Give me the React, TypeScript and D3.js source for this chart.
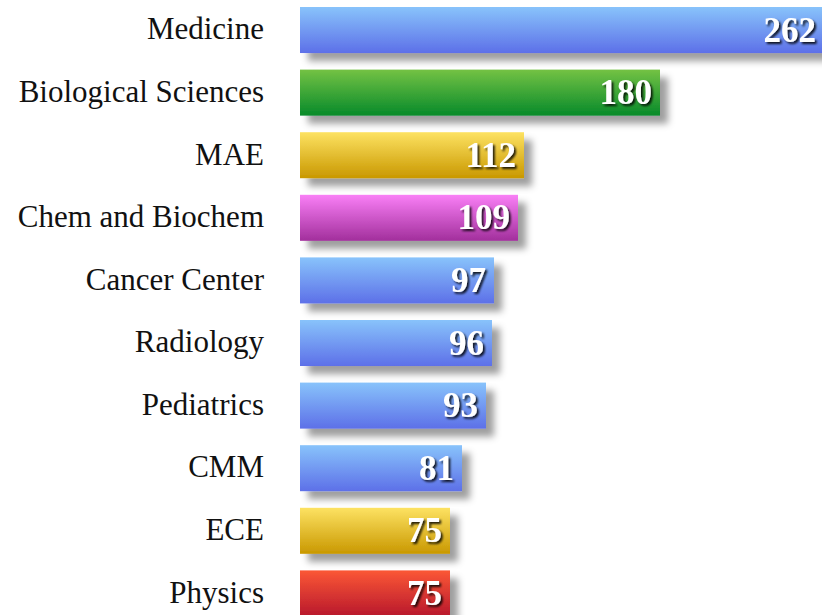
import React from "react";
import * as d3 from "d3";

const categories = ["Medicine", "Biological Sciences", "MAE", "Chem and Biochem", "Cancer Center", "Radiology", "Pediatrics", "CMM", "ECE", "Physics"];
const values = [262, 180, 112, 109, 97, 96, 93, 81, 75, 75];
const colorKeys = ["blue", "green", "gold", "magenta", "blue", "blue", "blue", "blue", "gold", "red"];

const gradients: Record<string, [string, string]> = {
  blue: ["#88c3fb", "#5d70e8"],
  green: ["#74c244", "#078a2a"],
  gold: ["#fde262", "#c99800"],
  magenta: ["#f97ff6", "#a22f9c"],
  red: ["#fb5736", "#b8182c"],
};

const W = 822;
const H = 615;

export default function App() {
  const x = d3.scaleLinear().domain([0, 1]).range([300, 302]);
  const y = d3.scaleBand<string>().domain(categories).range([7, 616.4]).paddingInner(0.265).paddingOuter(0);
  const bw = y.bandwidth();
  return (
    <svg width={W} height={H} style={{ position: "absolute", left: 0, top: 0, background: "#fff" }}>
      <defs>
        {Object.entries(gradients).map(([k, [c0, c1]]) => (
          <linearGradient key={k} id={`g-${k}`} x1="0" y1="0" x2="0" y2="1">
            <stop offset="0%" stopColor={c0} />
            <stop offset="100%" stopColor={c1} />
          </linearGradient>
        ))}
        <filter id="barShadow" x="-10%" y="-30%" width="130%" height="180%">
          <feDropShadow dx="8" dy="8" stdDeviation="3.5" floodColor="#000" floodOpacity="0.38" />
        </filter>
        <filter id="textShadow" x="-20%" y="-20%" width="150%" height="150%">
          <feDropShadow dx="2" dy="2" stdDeviation="1.3" floodColor="#000" floodOpacity="0.85" />
        </filter>
      </defs>
      {categories.map((c, i) => (
        <rect key={`s-${c}`} x={x(0)} y={y(c)!} width={x(values[i]) - x(0)} height={bw} fill={`url(#g-${colorKeys[i]})`} filter="url(#barShadow)" />
      ))}
      {categories.map((c, i) => (
        <text key={`l-${c}`} x={264} y={y(c)! + bw / 2} dy="0.3em" textAnchor="end" fontFamily="'Liberation Serif', serif" fontSize={31} fill="#111">
          {c}
        </text>
      ))}
      {categories.map((c, i) => (
        <text key={`v-${c}`} x={x(values[i]) - 8} y={y(c)! + bw / 2} dy="0.33em" textAnchor="end" fontFamily="'Liberation Serif', serif" fontWeight="bold" fontSize={35} fill="#fff" filter="url(#textShadow)">
          {values[i]}
        </text>
      ))}
    </svg>
  );
}
